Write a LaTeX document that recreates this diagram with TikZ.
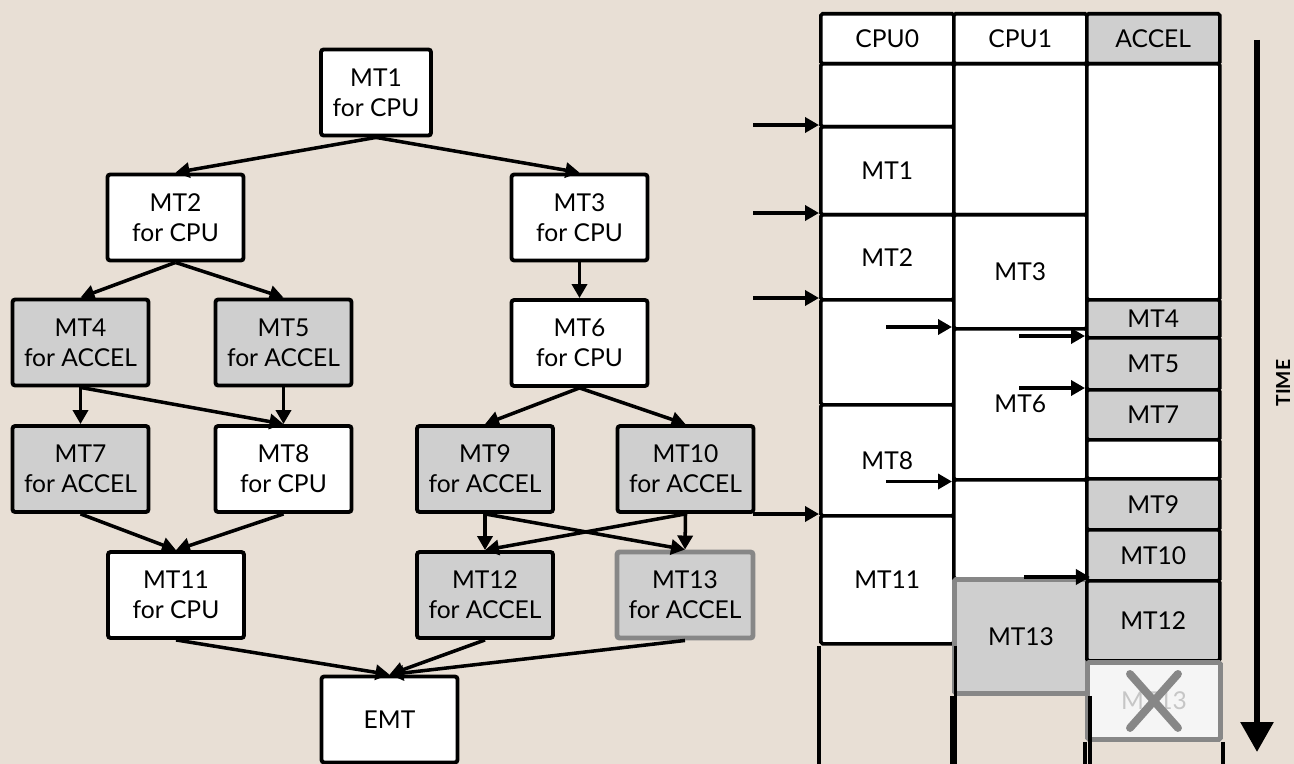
\documentclass[tikz,border=0pt]{standalone}
\usepackage{fontspec}
\setmainfont{Lato}
\usetikzlibrary{arrows.meta}

\definecolor{paper}{HTML}{E8DFD5}
\definecolor{accgray}{HTML}{CFCFCF}
\definecolor{dropgray}{HTML}{878787}

\begin{document}
\begin{tikzpicture}[x=2mm, y=-2mm, font=\fontsize{14}{17}\selectfont,
  task/.style={draw, line width=2.2pt, rounded corners=1.5pt, fill=white,
               minimum width=27.2mm, minimum height=17.2mm, align=center, inner sep=1pt},
  acc/.style={task, fill=accgray},
  slot/.style={draw, line width=2pt, rounded corners=1pt, fill=white, anchor=north west,
               minimum width=26.6mm, inner sep=0pt},
  rule/.style={line width=2pt},
  dep/.style={-{Triangle[length=2.8mm, width=3mm]}, line width=2pt}]
  \useasboundingbox (0,0) rectangle (129.4,76.4);
  \fill[paper] (0,0) rectangle (129.4,76.4);
  \coordinate (floor) at (0,76.4);

  % task graph
  \node[task, minimum width=22mm] (mt1) at (37.6,9.25) {MT1\\for CPU};
  \node[task] (mt2) at (17.55,21.75) {MT2\\for CPU};
  \node[task] (mt3) at (57.95,21.75) {MT3\\for CPU};
  \node[acc] (mt4) at (8.05,34.25) {MT4\\for ACCEL};
  \node[acc] (mt5) at (28.35,34.25) {MT5\\for ACCEL};
  \node[task] (mt6) at (57.95,34.3) {MT6\\for CPU};
  \node[acc] (mt7) at (8.05,46.9) {MT7\\for ACCEL};
  \node[task] (mt8) at (28.35,46.9) {MT8\\for CPU};
  \node[acc] (mt9) at (48.5,46.9) {MT9\\for ACCEL};
  \node[acc] (mt10) at (68.55,46.9) {MT10\\for ACCEL};
  \node[task] (mt11) at (17.6,59.5) {MT11\\for CPU};
  \node[acc] (mt12) at (48.5,59.5) {MT12\\for ACCEL};
  \node[acc, draw=dropgray, line width=2.8pt] (mt13) at (68.5,59.5) {MT13\\for ACCEL};
  \node[task] (emt) at (38.95,71.95) {EMT};
  \foreach \a/\b in {mt1/mt2, mt1/mt3, mt2/mt4, mt2/mt5, mt3/mt6, mt4/mt7, mt4/mt8,
                     mt5/mt8, mt6/mt9, mt6/mt10, mt7/mt11, mt8/mt11, mt9/mt12, mt9/mt13,
                     mt10/mt12, mt10/mt13, mt11/emt, mt12/emt, mt13/emt}
    \draw[dep] (\a.south) -- (\b.north);

  % schedule: CPU0
  \node[slot, minimum height=10mm] (h0) at (81.9,1.2) {CPU0};
  \node[slot, minimum height=12.6mm] (p0a) at (81.9,6.2) {};
  \node[slot, minimum height=17.6mm] (p1) at (81.9,12.5) {MT1};
  \node[slot, minimum height=17mm] (p2) at (81.9,21.3) {MT2};
  \node[slot, minimum height=21mm] (p0b) at (81.9,29.8) {};
  \node[slot, minimum height=22.2mm] (p8) at (81.9,40.3) {MT8};
  \node[slot, minimum height=25.6mm] (p11) at (81.9,51.4) {MT11};
  % CPU1
  \node[slot, minimum height=10mm] (h1) at (95.2,1.2) {CPU1};
  \node[slot, minimum height=30.2mm] (q1a) at (95.2,6.2) {};
  \node[slot, minimum height=22.8mm] (q3) at (95.2,21.3) {MT3};
  \node[slot, minimum height=30.2mm] (q6) at (95.2,32.7) {MT6};
  \node[slot, minimum height=19.8mm] (q1b) at (95.2,47.8) {};
  \node[slot, minimum height=22.8mm, fill=accgray, draw=dropgray, line width=2.8pt] (q13) at (95.2,57.7) {MT13};
  % ACCEL
  \node[slot, minimum height=10mm, fill=accgray] (h2) at (108.5,1.2) {ACCEL};
  \node[slot, minimum height=47.2mm] (r2a) at (108.5,6.2) {};
  \node[slot, minimum height=7.6mm, fill=accgray] (r4) at (108.5,29.8) {MT4};
  \node[slot, minimum height=10.4mm, fill=accgray] (r5) at (108.5,33.6) {MT5};
  \node[slot, minimum height=10mm, fill=accgray] (r7) at (108.5,38.8) {MT7};
  \node[slot, minimum height=7.8mm] (r2b) at (108.5,43.8) {};
  \node[slot, minimum height=10.2mm, fill=accgray] (r9) at (108.5,47.7) {MT9};
  \node[slot, minimum height=10.2mm, fill=accgray] (r10) at (108.5,52.8) {MT10};
  \node[slot, minimum height=16mm, fill=accgray] (r12) at (108.5,57.9) {MT12};
  \node[slot, minimum height=15.4mm, fill=gray!8, draw=dropgray, line width=2.8pt,
        text=gray!45] (r13) at (108.5,66) {MT13};
  \draw[dropgray, line width=4.5pt, line cap=round]
    (r13.center) ++(-2.4,-2.7) -- ++(4.8,5.4)
    (r13.center) ++(2.4,-2.7) -- ++(-4.8,5.4);

  % empty columns below the last slots
  \foreach \n in {p11, q13, r13} {
    \draw[rule] (\n.south west) -- (\n.south west |- floor);
    \draw[rule] (\n.south east) -- (\n.south east |- floor);
  }

  % ready signals
  \foreach \t in {p1.north west, p2.north west, p0b.north west, p11.north west,
                  q6.north west, q6.south west, r5.north west, r7.north west, q13.north east} {
    \coordinate (ready) at ([xshift=-13.2mm]\t);
    \draw[dep] (ready) -- (\t);
  }

  % time axis
  \coordinate (t0) at (125.7,4);
  \coordinate (t1) at (125.7,75.2);
  \draw[line width=3.4pt, -{Triangle[length=6mm, width=6.4mm]}] (t0) -- (t1);
  \node[font=\bfseries\fontsize{11}{13}\selectfont, rotate=90] (time) at (128.3,38.3) {TIME};
\end{tikzpicture}
\end{document}
